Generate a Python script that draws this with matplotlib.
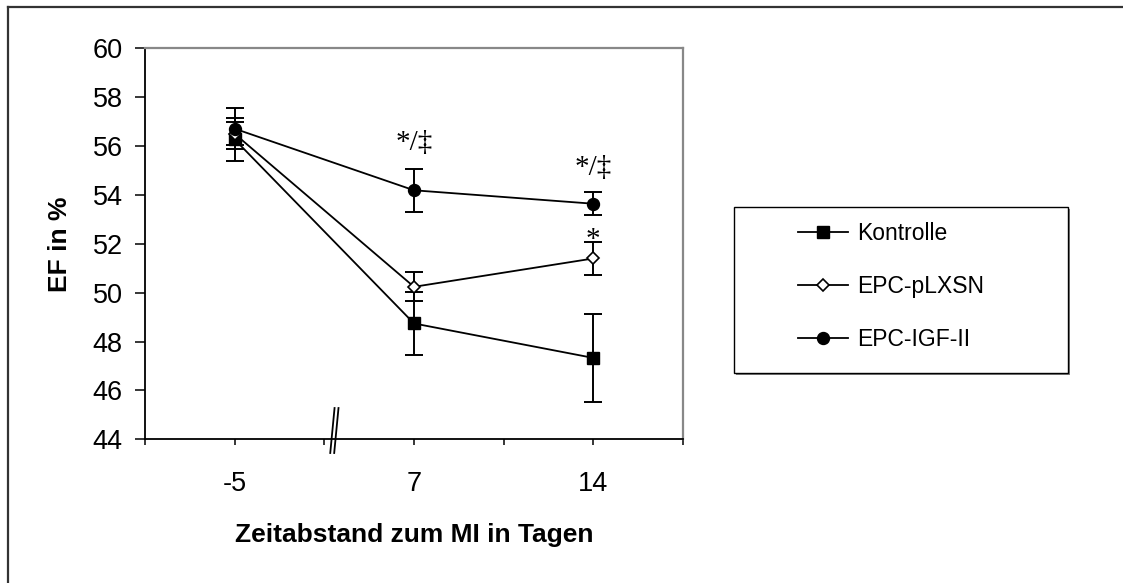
import matplotlib
matplotlib.use("Agg")
import matplotlib.pyplot as plt
from matplotlib.patches import Rectangle
from matplotlib.lines import Line2D

plt.rcParams['font.family'] = ['Liberation Sans', 'DejaVu Sans']

# Data: ejection fraction (%) at each time point, mean and error
days = ["-5", "7", "14"]
series_names = ["Kontrolle", "EPC-pLXSN", "EPC-IGF-II"]
kontrolle = [56.27, 48.74, 47.33]
kontrolle_err = [0.88, 1.30, 1.80]
pLXSN = [56.50, 50.24, 51.40]
pLXSN_err = [0.47, 0.60, 0.68]
igf2 = [56.71, 54.19, 53.64]
igf2_err = [0.85, 0.87, 0.47]

# significance marks: (series index, day index, text, offset in points)
sig_labels = [(2, 1, "*/\u2021", 14), (2, 2, "*/\u2021", 12.5), (1, 2, "*", -4)]

W, H = 1123, 583
fig = plt.figure(figsize=(W / 100, H / 100), dpi=100)
ax = fig.add_axes([145 / W, (H - 439.3) / H, (683 - 145) / W, (439.3 - 48.3) / H])

x = list(range(len(days)))
means = [kontrolle, pLXSN, igf2]
errs = [kontrolle_err, pLXSN_err, igf2_err]
styles = [
    dict(marker='s', markersize=8.2, markerfacecolor='black', markeredgecolor='black'),
    dict(marker='D', markersize=6.0, markerfacecolor='white', markeredgecolor='black', markeredgewidth=1.2),
    dict(marker='o', markersize=8.6, markerfacecolor='black', markeredgecolor='black'),
]

handles = []
for m, e, st, name in zip(means, errs, styles, series_names):
    ax.errorbar(x, m, yerr=e, fmt='none', ecolor='black', elinewidth=1.4,
                capsize=6.5, capthick=1.4, zorder=2)
    h, = ax.plot(x, m, color='black', linewidth=1.3, label=name, zorder=3, **st)
    handles.append(h)

for si, di, txt, off in sig_labels:
    ax.annotate(txt, xy=(di, means[si][di] + errs[si][di]), xytext=(0, off),
                textcoords='offset points', ha='center', va='baseline',
                fontsize=21, family=['Liberation Serif', 'DejaVu Serif'])

ax.set_xlim(-0.5, 2.5)
ax.set_ylim(44, 60)
ax.set_xticks(x)
ax.set_xticklabels(days)
ax.set_xticks([-0.5, 0.5, 1.5, 2.5], minor=True)
ax.set_yticks(range(44, 61, 2))
ax.tick_params(axis='y', which='major', direction='out', length=7, width=1.1,
               labelsize=19.5, pad=9)
ax.tick_params(axis='x', which='both', direction='out', length=4.5, width=1.1,
               labelsize=19.5, pad=18)

ax.set_xlabel("Zeitabstand zum MI in Tagen", fontsize=19, fontweight='bold', labelpad=19)
ax.set_ylabel("EF in %", fontsize=19, fontweight='bold', labelpad=15)

for s in ('left', 'bottom'):
    ax.spines[s].set_color('black')
    ax.spines[s].set_linewidth(1.3)
for s in ('top', 'right'):
    ax.spines[s].set_color('#888888')
    ax.spines[s].set_linewidth(1.6)

# axis break marks between -5 and 7
brk = 0.545
for dx in (0.0, 0.022):
    ax.add_line(Line2D([brk + dx + 0.012, brk + dx - 0.012], [45.28, 43.44],
                       color='black', linewidth=1.3, clip_on=False, zorder=5))

# legend frame with shadow
fig.patches.append(Rectangle((736 / W, (H - 375) / H), 334 / W, 166 / H,
                             transform=fig.transFigure, facecolor='#808080',
                             edgecolor='none', zorder=0))
fig.patches.append(Rectangle((734 / W, (H - 373) / H), 334 / W, 166 / H,
                             transform=fig.transFigure, facecolor='white',
                             edgecolor='black', linewidth=1.0, zorder=1))

leg = fig.legend(handles=handles, labels=series_names, loc='center left',
                 bbox_to_anchor=(798 / W, (H - 286.5) / H), frameon=False,
                 fontsize=16.5, handlelength=2.2, handletextpad=0.4,
                 labelspacing=1.3, borderpad=0, borderaxespad=0)

# outer frame: only left and top edges fall inside the image
fx, fy = 7.5 / W, 1 - 6.5 / H
fig.lines.append(Line2D([fx, fx], [0, fy], transform=fig.transFigure,
                        color='#333333', linewidth=1.6))
fig.lines.append(Line2D([fx, 1], [fy, fy], transform=fig.transFigure,
                        color='#333333', linewidth=1.6))

fig.savefig("out.png", dpi=100)
